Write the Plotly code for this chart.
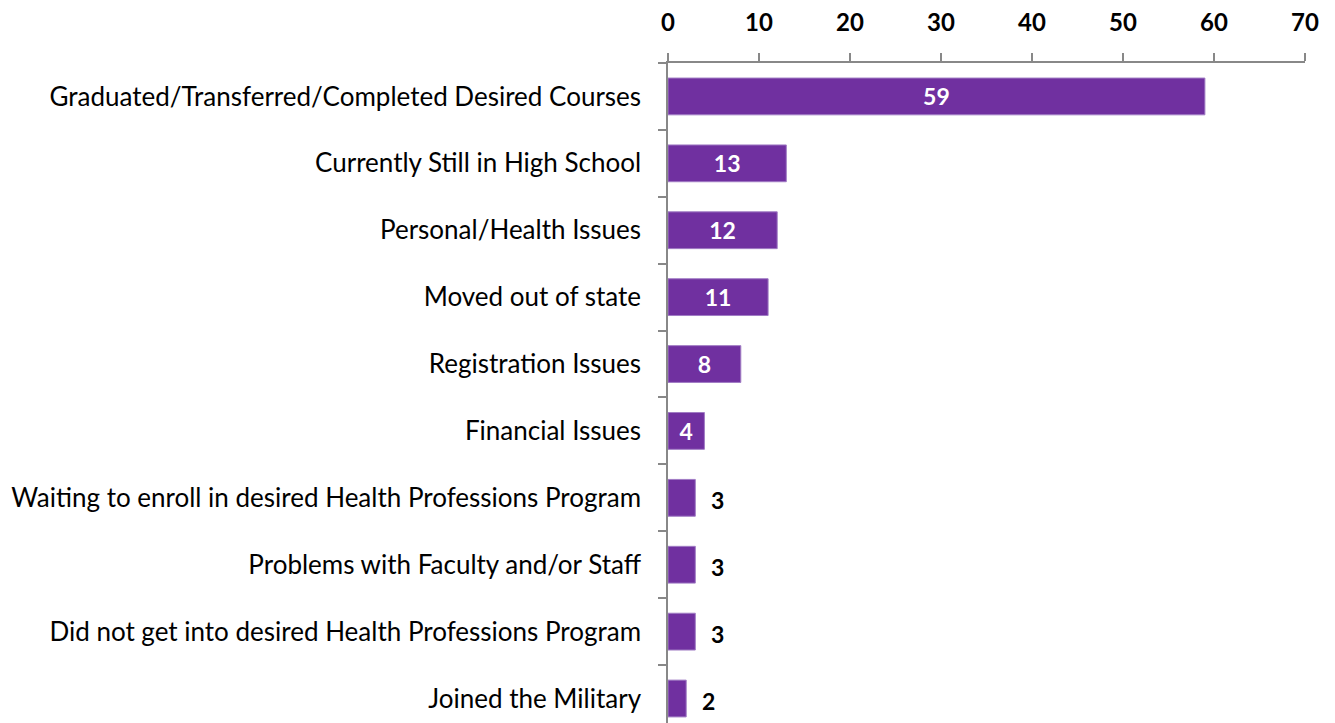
import plotly.graph_objects as go

categories = [
    "Graduated/Transferred/Completed Desired Courses",
    "Currently Still in High School",
    "Personal/Health Issues",
    "Moved out of state",
    "Registration Issues",
    "Financial Issues",
    "Waiting to enroll in desired Health Professions Program",
    "Problems with Faculty and/or Staff",
    "Did not get into desired Health Professions Program",
    "Joined the Military",
]
values = [59, 13, 12, 11, 8, 4, 3, 3, 3, 2]
x_ticks = [0, 10, 20, 30, 40, 50, 60, 70]

inside_threshold = 4
inside_text = [str(v) if v >= inside_threshold else "" for v in values]

FONT = "Lato"
fig = go.Figure()
fig.add_trace(go.Bar(
    y=categories, x=values, orientation="h",
    marker=dict(color="#7030A0", line=dict(color="#A07CC4", width=1)),
    text=inside_text, textposition="inside", insidetextanchor="middle",
    textangle=0,
    textfont=dict(family=FONT, size=23, color="white", weight="bold"),
    width=0.55, hoverinfo="skip",
))

for c, v in zip(categories, values):
    if v < inside_threshold:
        fig.add_annotation(x=v, y=c, text=str(v), showarrow=False,
                           xanchor="left", xshift=14, yshift=-2,
                           font=dict(family=FONT, size=23, color="black", weight="bold"))

fig.update_layout(
    width=1327, height=715,
    margin=dict(l=660, r=30, t=55, b=0),
    paper_bgcolor="white", plot_bgcolor="white",
    showlegend=False,
    font=dict(family=FONT, size=26, color="black"),
    xaxis=dict(side="top", range=[0, 70], tickvals=x_ticks, showgrid=False,
               zeroline=False, showline=True, linecolor="#888888", linewidth=1.5,
               ticks="outside", ticklen=8, tickcolor="#888888", tickwidth=1.5,
               tickfont=dict(family=FONT, size=24, color="black", weight="bold"),
               ticklabelstandoff=13, fixedrange=True),
    yaxis=dict(type="category", categoryorder="array", categoryarray=categories,
               range=[9.366, -0.5], showgrid=False, zeroline=False,
               showline=True, linecolor="#888888", linewidth=1.5,
               ticks="outside", ticklen=8, tickcolor="#888888", tickwidth=1.5,
               tickson="boundaries", ticklabelstandoff=20,
               tickfont=dict(family=FONT, size=26, color="black"), fixedrange=True),
)

fig.write_html("out.html")
